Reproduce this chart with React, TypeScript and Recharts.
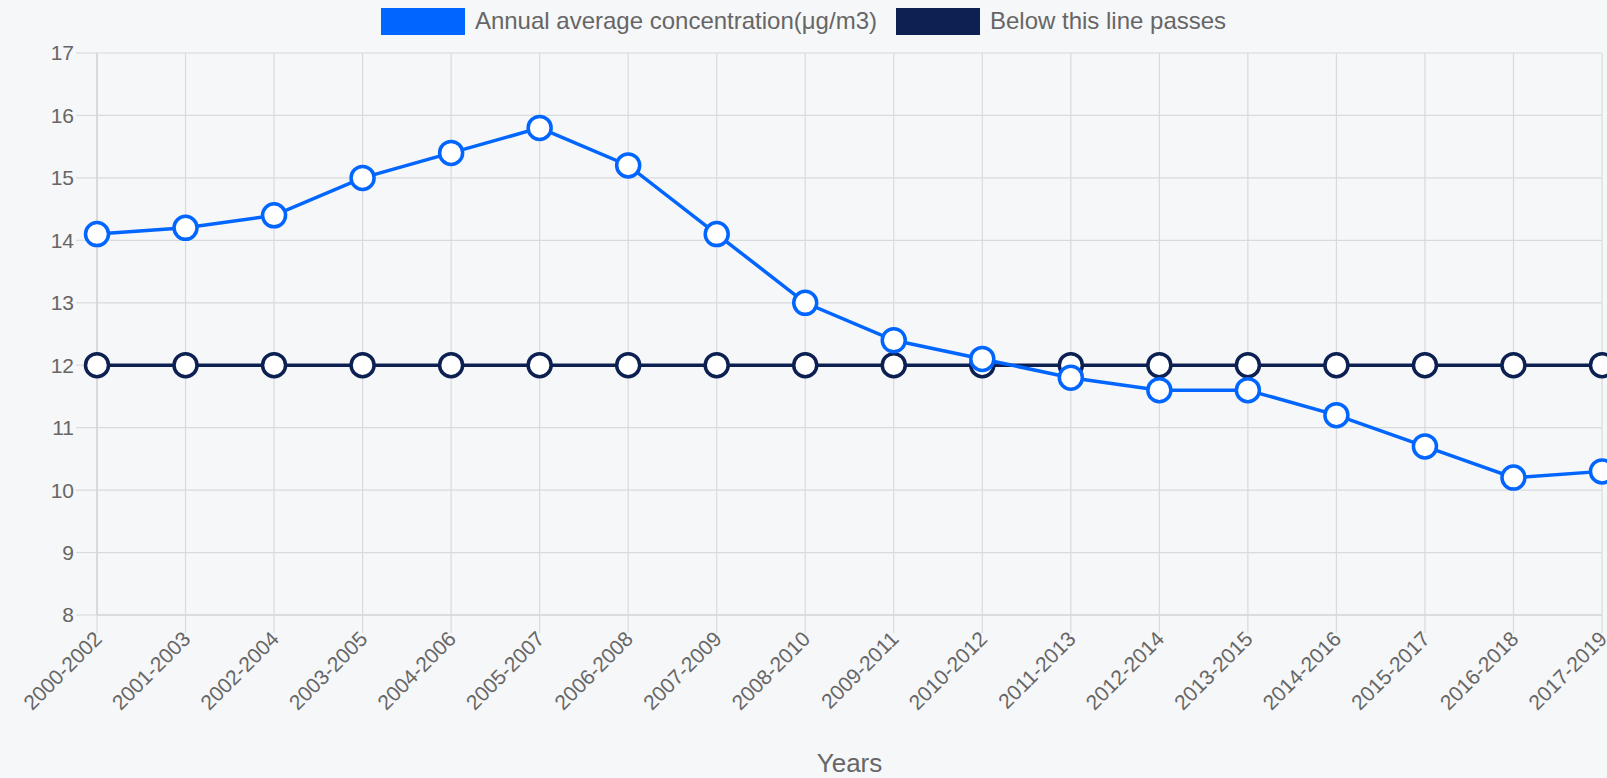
import React from "react";
import { LineChart, Line, XAxis, YAxis, CartesianGrid, Legend } from "recharts";

const categories = [
  "2000-2002", "2001-2003", "2002-2004", "2003-2005", "2004-2006", "2005-2007",
  "2006-2008", "2007-2009", "2008-2010", "2009-2011", "2010-2012", "2011-2013",
  "2012-2014", "2013-2015", "2014-2016", "2015-2017", "2016-2018", "2017-2019",
];
const concentration = [
  14.1, 14.2, 14.4, 15.0, 15.4, 15.8, 15.2, 14.1, 13.0, 12.4, 12.1, 11.8,
  11.6, 11.6, 11.2, 10.7, 10.2, 10.3,
];
const threshold = [
  12, 12, 12, 12, 12, 12, 12, 12, 12, 12, 12, 12, 12, 12, 12, 12, 12, 12,
];
const yTicks = [8, 9, 10, 11, 12, 13, 14, 15, 16, 17];

const seriesNames = {
  conc: "Annual average concentration(μg/m3)",
  limit: "Below this line passes",
};

const BLUE = "#0066ff";
const NAVY = "#0c2152";
const GRID = "#d9dadc";
const TEXT = "#666666";
const FONT = "'Liberation Sans', Arial, Helvetica, sans-serif";

const data = categories.map((c, i) => ({
  period: c,
  conc: concentration[i],
  limit: threshold[i],
}));

const XTick = (props: any) => {
  const { x, y, payload } = props;
  return (
    <g transform={`translate(${x + 1},${y})`}>
      <text
        x={0}
        y={0}
        dy="0.35em"
        textAnchor="end"
        transform="rotate(-45)"
        fill={TEXT}
        fontSize={21}
        fontFamily={FONT}
      >
        {payload.value}
      </text>
    </g>
  );
};

const LegendContent = () => {
  const items = [
    { name: seriesNames.conc, color: BLUE },
    { name: seriesNames.limit, color: NAVY },
  ];
  return (
    <div
      style={{
        height: 42,
        display: "flex",
        justifyContent: "center",
        alignItems: "flex-start",
        fontFamily: FONT,
      }}
    >
      {items.map((it, i) => (
        <div
          key={it.name}
          style={{
            display: "flex",
            alignItems: "center",
            marginRight: i === 0 ? 19 : 0,
            height: 42,
          }}
        >
          <div
            style={{
              width: 84,
              height: 27,
              background: it.color,
              marginRight: 10,
            }}
          />
          <span style={{ fontSize: 24, color: TEXT, whiteSpace: "nowrap" }}>
            {it.name}
          </span>
        </div>
      ))}
    </div>
  );
};

export default function App() {
  return (
    <div style={{ width: 1607, height: 778, background: "#f6f7f9" }}>
      <style>{`body{margin:0;background:#f6f7f9;}`}</style>
      <LineChart
        width={1607}
        height={778}
        data={data}
        margin={{ top: 11, right: 5, bottom: 0, left: 0 }}
      >
        <Legend
          verticalAlign="top"
          align="center"
          content={<LegendContent />}
          wrapperStyle={{ top: 0, left: 0, width: 1607 }}
        />
        <CartesianGrid stroke={GRID} strokeWidth={1.2} />
        <XAxis
          dataKey="period"
          interval={0}
          padding={{ left: 0, right: 0 }}
          height={163}
          tickSize={18}
          tickMargin={2}
          tickLine={{ stroke: GRID, strokeWidth: 1.2 }}
          axisLine={{ stroke: "#cfd0d2", strokeWidth: 1.2 }}
          tick={<XTick />}
          label={{
            value: "Years",
            position: "insideBottom",
            offset: 6,
            fill: TEXT,
            fontSize: 26,
            fontFamily: FONT,
          }}
        />
        <YAxis
          type="number"
          domain={[8, 17]}
          ticks={yTicks}
          interval={0}
          width={97}
          tickSize={21}
          tickMargin={2}
          tickLine={{ stroke: GRID, strokeWidth: 1.2 }}
          axisLine={{ stroke: "#cfd0d2", strokeWidth: 1.2 }}
          tick={{ fill: TEXT, fontSize: 21, fontFamily: FONT }}
        />
        <Line
          dataKey="limit"
          name={seriesNames.limit}
          stroke={NAVY}
          strokeWidth={3.5}
          dot={{ r: 11.5, fill: "#ffffff", stroke: NAVY, strokeWidth: 3.5 }}
          activeDot={false}
          isAnimationActive={false}
        />
        <Line
          dataKey="conc"
          name={seriesNames.conc}
          stroke={BLUE}
          strokeWidth={3.5}
          dot={{ r: 11.5, fill: "#ffffff", stroke: BLUE, strokeWidth: 3.5 }}
          activeDot={false}
          isAnimationActive={false}
        />
      </LineChart>
    </div>
  );
}
